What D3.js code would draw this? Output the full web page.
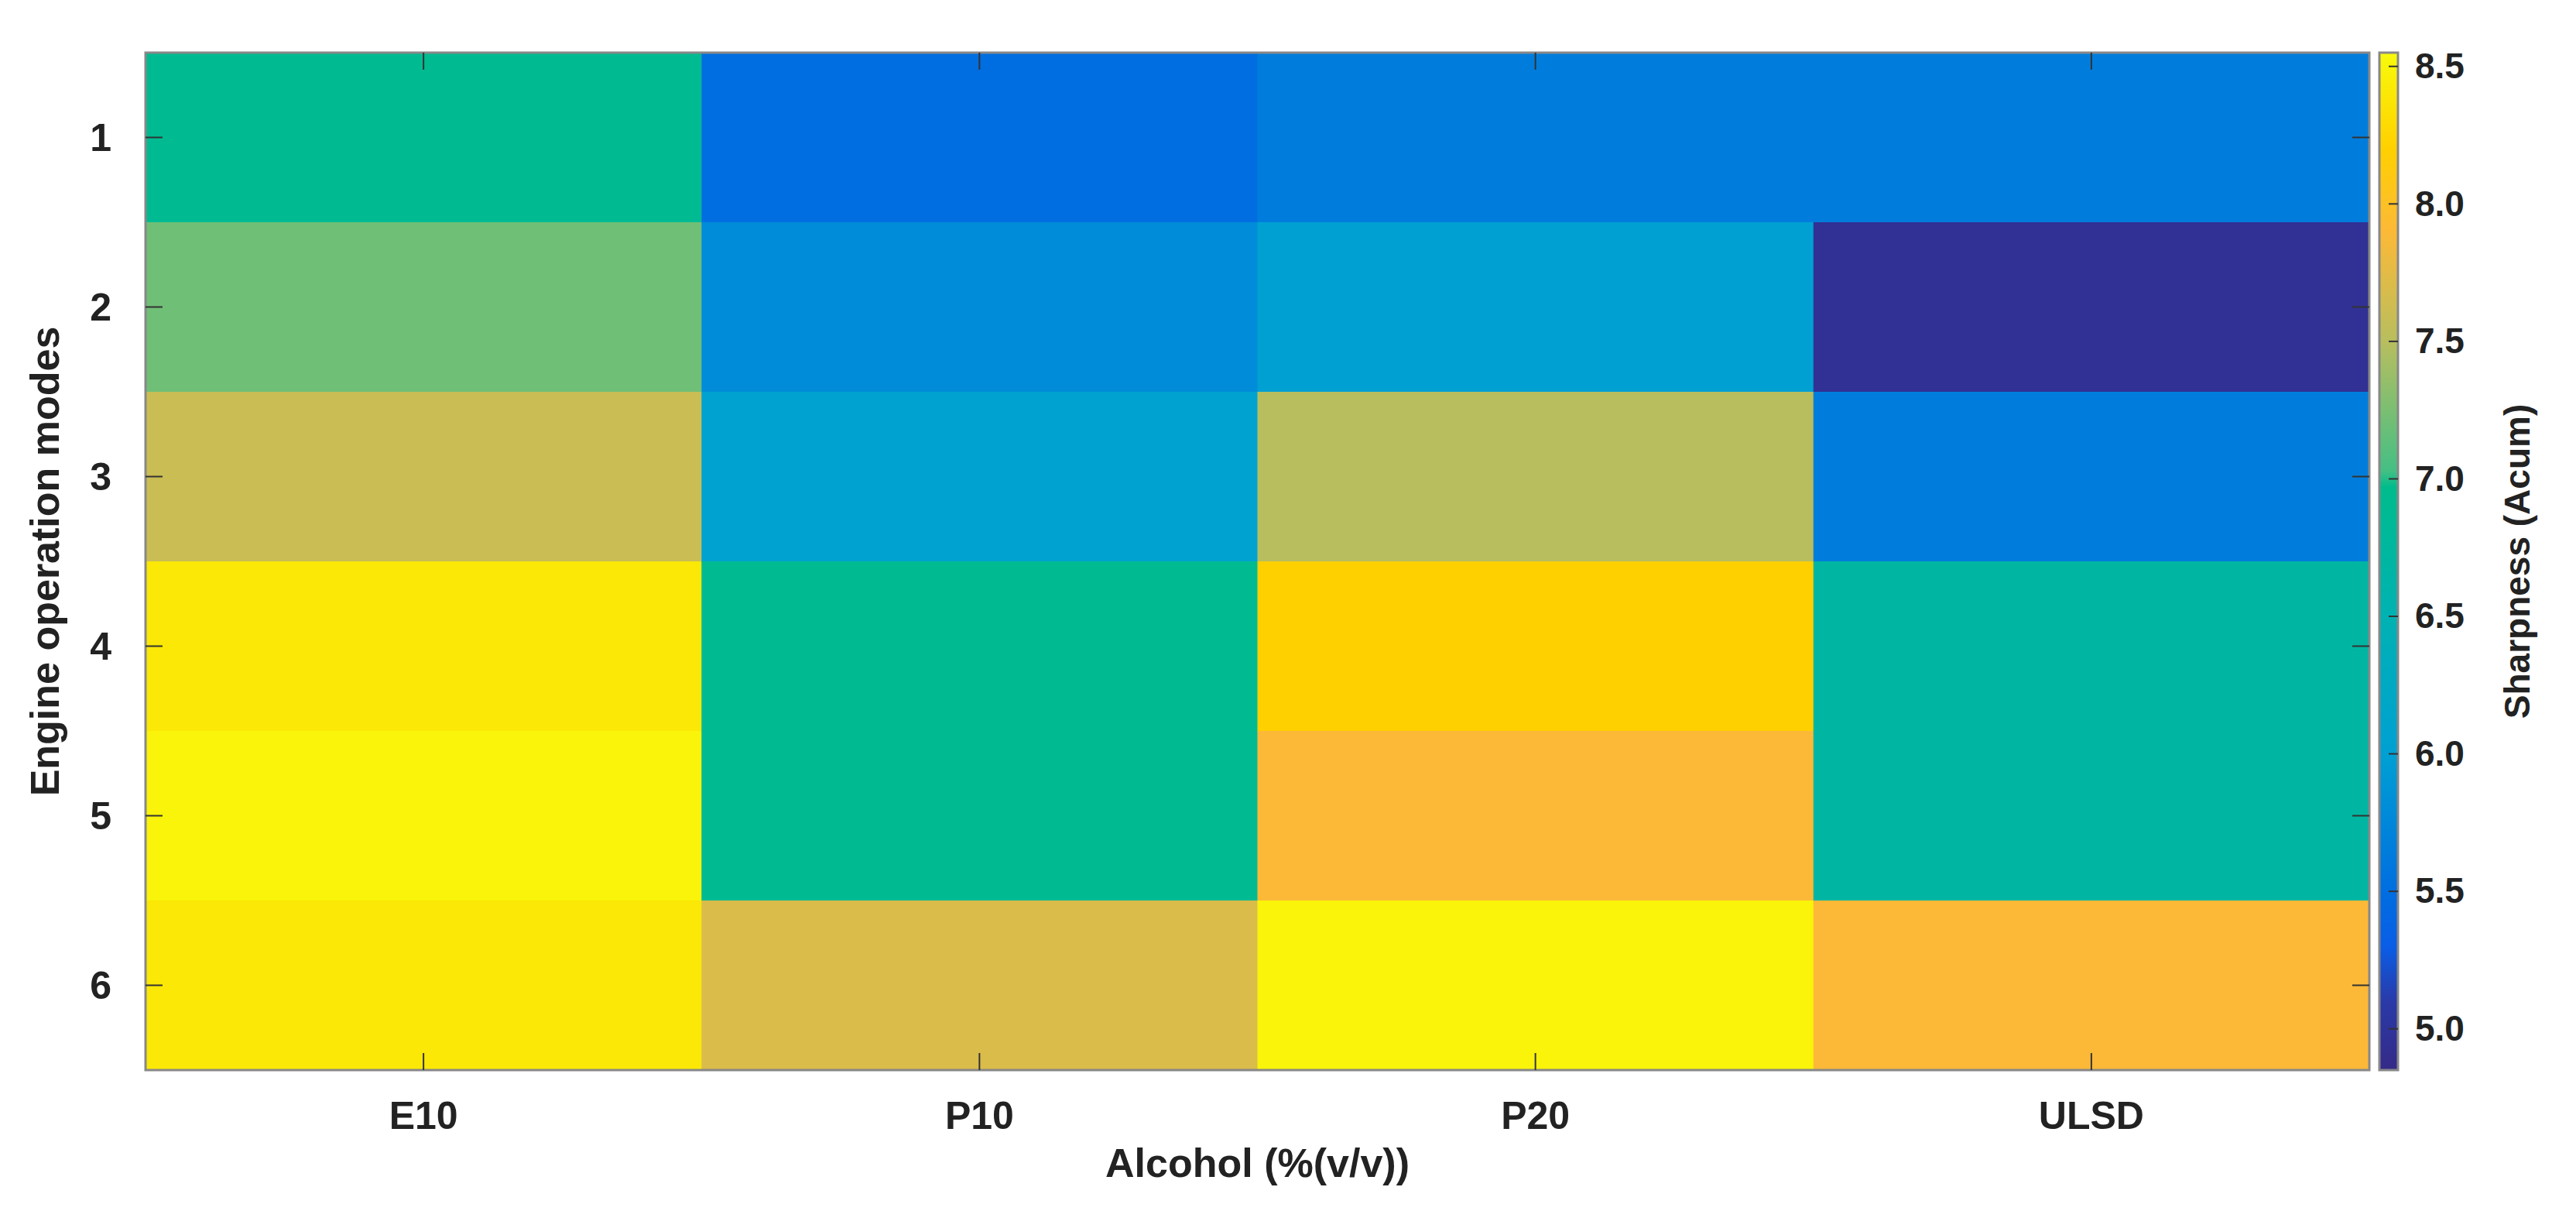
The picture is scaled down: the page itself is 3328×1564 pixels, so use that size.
<!DOCTYPE html>
<html><head><meta charset="utf-8">
<script src="https://cdn.jsdelivr.net/npm/d3@7"></script>
<style>body{margin:0;background:#fff}text{font-family:"Liberation Sans",Arial,sans-serif;font-weight:bold;fill:#222}</style>
</head><body><svg id="c" width="3328" height="1564"></svg>
<script>
// fuels along x, engine modes along y
var fuels = ["E10", "P10", "P20", "ULSD"];
var modes = ["1", "2", "3", "4", "5", "6"];
// sharpness (acum), one row per mode, columns follow fuels
var e10  = [6.9, 7.2, 7.6, 8.4, 8.5, 8.4];
var p10  = [5.5, 5.8, 6.05, 6.9, 6.9, 7.7];
var p20  = [5.65, 6.0, 7.5, 8.2, 7.9, 8.5];
var ulsd = [5.65, 4.95, 5.65, 6.7, 6.7, 7.9];
var cbTicks = [5.0, 5.5, 6.0, 6.5, 7.0, 7.5, 8.0, 8.5];
var cMin = 4.85, cMax = 8.55;

// colormap stops
var cmapVals = [4.85, 5.1, 5.3, 5.5, 6.0, 6.5, 6.97, 7.03, 7.5, 7.9, 8.2, 8.55];
var cmapCols = ["#352a87", "#2a3aa8", "#0a5ee6", "#006ee0", "#00a0d3", "#00b2b2", "#00bc8c", "#45bf84", "#b8be5e", "#fcb937", "#ffd000", "#f8fa0a"];

var cells = [];
[e10, p10, p20, ulsd].forEach(function(col, i) {
  col.forEach(function(v, j) { cells.push({fuel: fuels[i], mode: modes[j], v: v}); });
});

var svg = d3.select("#c");
var L = 188, R = 3061, T = 68, B = 1382;

var x = d3.scaleBand().domain(fuels).range([L, R]);
var y = d3.scaleBand().domain(modes).range([T, B]);
var color = d3.scaleLinear().domain(cmapVals).range(cmapCols);

svg.selectAll("rect.cell").data(cells).enter().append("rect")
  .attr("x", function(d) { return x(d.fuel); })
  .attr("y", function(d) { return y(d.mode); })
  .attr("width", x.bandwidth() + 0.5)
  .attr("height", y.bandwidth() + 0.5)
  .attr("fill", function(d) { return color(d.v); });

svg.append("rect").attr("x", L).attr("y", T).attr("width", R - L).attr("height", B - T)
  .attr("fill", "none").attr("stroke", "#888").attr("stroke-width", 3);

// inward ticks on all sides (matlab style)
var tl = 22;
fuels.forEach(function(f) {
  var cx = x(f) + x.bandwidth() / 2;
  svg.append("line").attr("x1", cx).attr("x2", cx).attr("y1", B).attr("y2", B - tl).attr("stroke", "#333").attr("stroke-width", 2);
  svg.append("line").attr("x1", cx).attr("x2", cx).attr("y1", T).attr("y2", T + tl).attr("stroke", "#333").attr("stroke-width", 2);
  svg.append("text").attr("x", cx).attr("y", B + 76).attr("text-anchor", "middle").attr("font-size", 50).text(f);
});
modes.forEach(function(m) {
  var cy = y(m) + y.bandwidth() / 2;
  svg.append("line").attr("x1", L).attr("x2", L + tl).attr("y1", cy).attr("y2", cy).attr("stroke", "#333").attr("stroke-width", 2);
  svg.append("line").attr("x1", R).attr("x2", R - tl).attr("y1", cy).attr("y2", cy).attr("stroke", "#333").attr("stroke-width", 2);
  svg.append("text").attr("x", L - 44).attr("y", cy).attr("dy", "0.35em").attr("text-anchor", "end").attr("font-size", 50).text(m);
});

svg.append("text").attr("x", (L + R) / 2).attr("y", 1520).attr("text-anchor", "middle").attr("font-size", 52).text("Alcohol (%(v/v))");
svg.append("text").attr("transform", "translate(76," + ((T + B) / 2) + ") rotate(-90)")
  .attr("text-anchor", "middle").attr("font-size", 52).text("Engine operation modes");

// colorbar
var cbX = 3074, cbW = 24;
var cy2 = d3.scaleLinear().domain([cMin, cMax]).range([B, T]);
var defs = svg.append("defs");
var grad = defs.append("linearGradient").attr("id", "g").attr("x1", 0).attr("y1", 1).attr("x2", 0).attr("y2", 0);
cmapVals.forEach(function(v, i) {
  grad.append("stop").attr("offset", (v - cMin) / (cMax - cMin)).attr("stop-color", cmapCols[i]);
});
svg.append("rect").attr("x", cbX).attr("y", T).attr("width", cbW).attr("height", B - T)
  .attr("fill", "url(#g)").attr("stroke", "#888").attr("stroke-width", 3);
var cbAxis = d3.axisRight(cy2).tickValues(cbTicks).tickFormat(d3.format(".1f")).tickSize(0).tickPadding(22);
var ga = svg.append("g").attr("transform", "translate(" + (cbX + cbW) + ",0)").call(cbAxis);
ga.select(".domain").remove();
ga.selectAll("text").attr("font-size", 46).style("font-family", "Liberation Sans").style("font-weight", "bold").attr("fill", "#222");
cbTicks.forEach(function(t) {
  svg.append("line").attr("x1", cbX + cbW).attr("x2", cbX + cbW - 12).attr("y1", cy2(t)).attr("y2", cy2(t)).attr("stroke", "#333").attr("stroke-width", 2);
});
svg.append("text").attr("transform", "translate(3268," + ((T + B) / 2) + ") rotate(-90)")
  .attr("text-anchor", "middle").attr("font-size", 46).text("Sharpness (Acum)");
</script></body></html>
